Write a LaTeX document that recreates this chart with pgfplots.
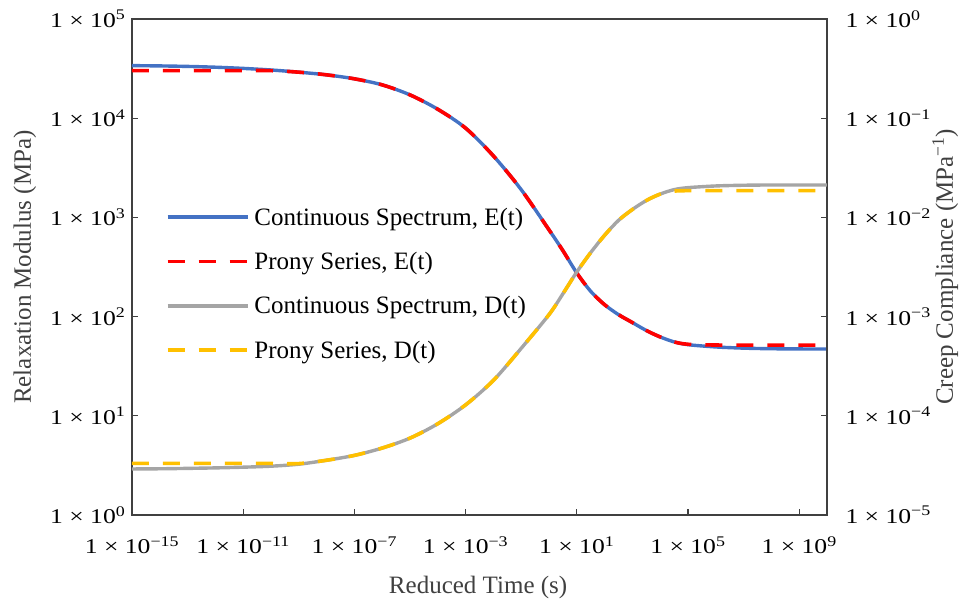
\documentclass[border=0pt]{standalone}
\usepackage{pgfplots}
\pgfplotsset{compat=1.18}
\usepackage{fontspec}
\setmainfont{Liberation Serif}
\newcommand\tl[1]{\scalebox{1.22}[1]{1 × 10\textsuperscript{#1}}}
\definecolor{cblue}{HTML}{4472C4}
\definecolor{cred}{HTML}{FF0000}
\definecolor{cgray}{HTML}{A5A5A5}
\definecolor{cgold}{HTML}{FFC000}
\definecolor{axgray}{HTML}{404040}
\begin{document}
\begin{tikzpicture}
\begin{axis}[name=main,
  width=695pt, height=496pt, scale only axis,
  xmode=log, ymode=log, xmin=1e-15, xmax=1e10,
  tick align=inside, major tick length=6pt, minor tick length=0pt,
  major tick style={axgray, line width=1.2pt},
  axis line style={axgray, line width=1.3pt},
  tick label style={font=\fontsize{21}{25}\selectfont, text=black},
  label style={font=\fontsize{25}{30}\selectfont, text=axgray},
  x tick label style={yshift=-18pt},
  y tick label style={xshift=-3pt},
  ymin=1, ymax=1e5,
  xtick pos=lower, ytick pos=left,
  xtick={1e-15,1e-11,1e-7,1e-3,1e1,1e5,1e9},
  xticklabels={{\tl{−15}},{\tl{−11}},{\tl{−7}},{\tl{−3}},{\tl{1}},{\tl{5}},{\tl{9}}},
  ytick={1,10,100,1000,10000,100000},
  yticklabels={{\tl{0}},{\tl{1}},{\tl{2}},{\tl{3}},{\tl{4}},{\tl{5}}},
  xlabel={Reduced Time (s)},
  ylabel={Relaxation Modulus (MPa)},
  x label style={at={(axis description cs:0.498,-0.146)}, anchor=center},
  y label style={at={(axis description cs:-0.154,0.5)}, anchor=center},
  legend style={draw=none, fill=none, at={(0.044,0.628)}, anchor=north west,
    font=\fontsize{25}{30}\selectfont, row sep=21.5pt, text=black},
  legend cell align=left,
  legend image code/.code={\draw[#1] (0pt,0pt) -- (80pt,0pt); \path (83pt,0pt);},
]
\addplot[cblue, line width=3.4pt, smooth] table {
x y
1e-15 33884
1e-14 33651
1e-13 33266
1e-12 32659
1e-11 31769
1e-10 30620
1e-9 29107
1e-8 27353
1e-7 24946
1e-6 21677
1e-5 17179
1e-4 12303
1e-3 7943
1e-2 4169
1e-1 1905
1 749.9
3.162 462.4
10 275.4
31.62 179.9
100 131.8
316.2 104.7
1000 87.10
3162 72.44
1e4 62.37
3.162e4 55.59
1e5 52.12
1e6 49.43
1e7 48.08
1e8 47.42
1e9 47.21
1e10 47.10
};
\addlegendentry{Continuous Spectrum, E(t)}
\addplot[cred, line width=3.6pt, dash pattern=on 17pt off 14pt, smooth] table {
x y
1e-15 30200
1e-14 30200
1e-13 30200
1e-12 30200
1e-11 30200
1e-10 30150
1e-9 29107
1e-8 27353
1e-7 24946
1e-6 21677
1e-5 17179
1e-4 12303
1e-3 7943
1e-2 4169
1e-1 1905
1 749.9
3.162 462.4
10 275.4
31.62 179.9
100 131.8
316.2 104.7
1000 87.10
3162 72.44
1e4 62.37
3.162e4 55.59
1e5 52.6
1e6 51.7
1e7 51.64
1e8 51.64
1e9 51.64
1e10 51.64
};
\addlegendentry{Prony Series, E(t)}
\addlegendimage{cgray, line width=3.4pt}
\addlegendentry{Continuous Spectrum, D(t)}
\addlegendimage{cgold, line width=3.6pt, dash pattern=on 17pt off 14pt}
\addlegendentry{Prony Series, D(t)}
\end{axis}
\begin{axis}[
  width=695pt, height=496pt, scale only axis,
  xmode=log, ymode=log, xmin=1e-15, xmax=1e10,
  tick align=inside, major tick length=6pt, minor tick length=0pt,
  major tick style={axgray, line width=1.2pt},
  axis line style={axgray, line width=1.3pt},
  tick label style={font=\fontsize{21}{25}\selectfont, text=black},
  label style={font=\fontsize{25}{30}\selectfont, text=axgray},
  y tick label style={xshift=15pt},
  ymin=1e-5, ymax=1,
  axis x line=none, axis y line*=right,
  ytick={1e-5,1e-4,1e-3,1e-2,1e-1,1},
  yticklabels={{\tl{−5}},{\tl{−4}},{\tl{−3}},{\tl{−2}},{\tl{−1}},{\tl{0}}},
  ylabel={Creep Compliance (MPa\textsuperscript{−1})},
  y label style={at={(axis description cs:1.17,0.5)}, anchor=center},
]
\addplot[cgray, line width=3.4pt, smooth] table {
x y
1e-15 2.911e-5
1e-14 2.924e-5
1e-13 2.951e-5
1e-12 2.985e-5
1e-11 3.034e-5
1e-10 3.105e-5
1e-9 3.251e-5
1e-8 3.565e-5
1e-7 3.990e-5
1e-6 4.732e-5
1e-5 5.957e-5
1e-4 8.318e-5
1e-3 1.288e-4
1e-2 2.275e-4
1e-1 4.786e-4
1 1.047e-3
3.162 1.698e-3
10 2.818e-3
31.62 4.416e-3
100 6.607e-3
316.2 9.333e-3
1000 1.202e-2
3162 1.479e-2
1e4 1.718e-2
3.162e4 1.905e-2
1e5 1.995e-2
1e6 2.075e-2
1e7 2.109e-2
1e8 2.123e-2
1e9 2.123e-2
1e10 2.123e-2
};
\addplot[cgold, line width=3.6pt, dash pattern=on 17pt off 14pt, smooth] table {
x y
1e-15 3.311e-5
1e-14 3.311e-5
1e-13 3.311e-5
1e-12 3.311e-5
1e-11 3.311e-5
1e-10 3.31e-5
1e-9 3.30e-5
1e-8 3.565e-5
1e-7 3.990e-5
1e-6 4.732e-5
1e-5 5.957e-5
1e-4 8.318e-5
1e-3 1.288e-4
1e-2 2.275e-4
1e-1 4.786e-4
1 1.047e-3
3.162 1.698e-3
10 2.818e-3
31.62 4.416e-3
100 6.607e-3
316.2 9.333e-3
1000 1.202e-2
3162 1.479e-2
1e4 1.718e-2
3.162e4 1.84e-2
1e5 1.86e-2
1e6 1.862e-2
1e7 1.862e-2
1e8 1.862e-2
1e9 1.862e-2
1e10 1.862e-2
};
\end{axis}
\pgfresetboundingbox
\path ([xshift=-132pt,yshift=-84pt]main.south west) rectangle ([xshift=135pt,yshift=19pt]main.north east);
\end{tikzpicture}
\end{document}
